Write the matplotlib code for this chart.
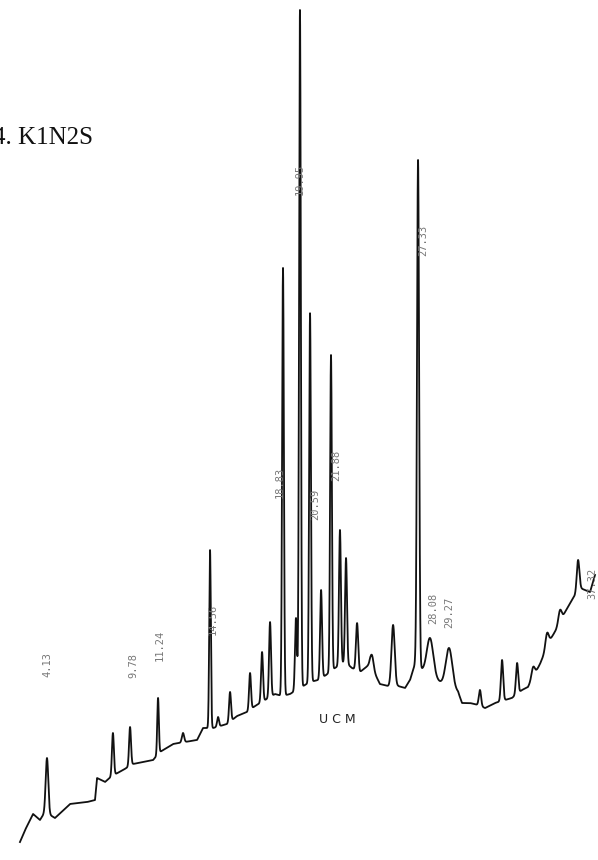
import numpy as np
import matplotlib
matplotlib.use("Agg")
import matplotlib.pyplot as plt

# ---- data (retention time in min, signal in % of full scale) ----
base_t = [2.44, 2.76, 3.26, 3.69, 4.01, 4.63, 5.57, 6.63, 7.13, 7.26, 7.76, 8.19, 8.88, 9.51,
          10.76, 11.19, 12.01, 13.51, 13.88, 14.51, 15.38, 16.01, 16.63, 17.13, 17.76, 18.38,
          18.82, 19.32, 19.94, 20.57, 21.07, 21.57, 22.13, 22.76, 23.19, 23.69, 24.32, 24.94,
          25.44, 26.07, 26.51, 26.82, 27.13, 27.57, 28.69, 29.82, 30.07, 30.57, 31.07, 31.51,
          32.13, 32.76, 33.19, 33.82, 34.19, 34.94, 35.57, 35.94, 36.51, 36.94, 37.44, 38.07, 38.38]
base_s = [0.95, 2.38, 4.29, 3.57, 4.52, 3.81, 5.48, 5.71, 5.95, 8.57, 8.10, 8.81, 9.52, 10.24,
          10.71, 11.67, 12.62, 13.10, 14.52, 14.52, 15.00, 15.95, 16.43, 17.14, 17.86, 18.57,
          18.33, 18.57, 19.29, 20.00, 20.24, 20.83, 21.67, 22.38, 21.67, 21.19, 22.14, 19.76,
          19.52, 19.52, 19.29, 20.24, 22.14, 21.43, 20.00, 18.81, 17.50, 17.50, 17.26, 16.90,
          17.50, 17.86, 18.10, 19.05, 19.40, 22.14, 25.00, 26.19, 28.33, 29.76, 31.19, 30.71, 32.74]

peak_t = [4.13, 8.25, 9.32, 11.07, 12.63, 14.32, 14.82, 15.57, 16.82, 17.57, 18.07, 18.88,
          19.69, 19.94, 20.57, 21.26, 21.88, 22.44, 22.82, 23.51, 24.44, 25.76, 27.32, 28.07,
          29.26, 31.19, 32.57, 33.51, 34.51, 35.38, 36.19, 37.32]
peak_top = [10.95, 13.93, 14.64, 18.10, 13.93, 35.71, 15.83, 18.81, 21.07, 23.57, 27.14, 69.29,
            27.62, 100.0, 63.93, 30.95, 58.93, 38.10, 34.76, 27.02, 23.21, 26.79, 82.14, 25.24,
            24.05, 19.05, 22.62, 22.26, 21.79, 25.83, 28.57, 34.52]
peak_w = [0.08, 0.06, 0.06, 0.05, 0.07, 0.05, 0.06, 0.06, 0.06, 0.06, 0.06, 0.055,
          0.06, 0.055, 0.055, 0.06, 0.055, 0.06, 0.06, 0.07, 0.10, 0.10, 0.065, 0.20,
          0.20, 0.07, 0.07, 0.07, 0.10, 0.10, 0.10, 0.08]

label_t = [4.13, 9.51, 11.19, 14.51, 18.69, 19.94, 20.88, 22.19, 27.63, 28.25, 29.25, 38.19]
label_s = [22.1, 22.0, 24.4, 27.4, 43.8, 79.8, 41.1, 45.8, 72.6, 28.8, 28.3, 31.8]
label_txt = ["4.13", "9.78", "11.24", "14.56", "18.83", "19.95", "20.59", "21.88",
             "27.33", "28.08", "29.27", "37.32"]

title = "4. K1N2S"
hump_label = "U C M"

# ---- build trace ----
t = np.arange(base_t[0], base_t[-1], 0.004)
sig = np.interp(t, base_t, base_s)
for pt, top, w in zip(peak_t, peak_top, peak_w):
    amp = top - np.interp(pt, base_t, base_s)
    sig = sig + amp * np.exp(-0.5 * ((t - pt) / w) ** 2)

fig = plt.figure(figsize=(5.98, 8.60), dpi=100)
ax = fig.add_axes([0, 0, 1, 1])
ax.plot(t, sig, color="#111111", lw=1.3)
ax.set_xlim(1.1925, 38.5675)
ax.set_ylim(-1.19, 101.19)
ax.axis("off")

for lt, ls, tx in zip(label_t, label_s, label_txt):
    ax.text(lt, ls, tx, rotation=90, ha="center", va="center",
            family="DejaVu Sans Mono", fontsize=7.5, color="#777777")

ax.text(22.3, 15.5, hump_label, ha="center", va="center",
        family="DejaVu Sans", fontsize=9, color="#222222")

fig.text(-0.011, 0.832, title, ha="left", va="baseline",
         family="Liberation Serif", fontsize=18, color="#111111")

fig.savefig("out.png", dpi=100, facecolor="white")
